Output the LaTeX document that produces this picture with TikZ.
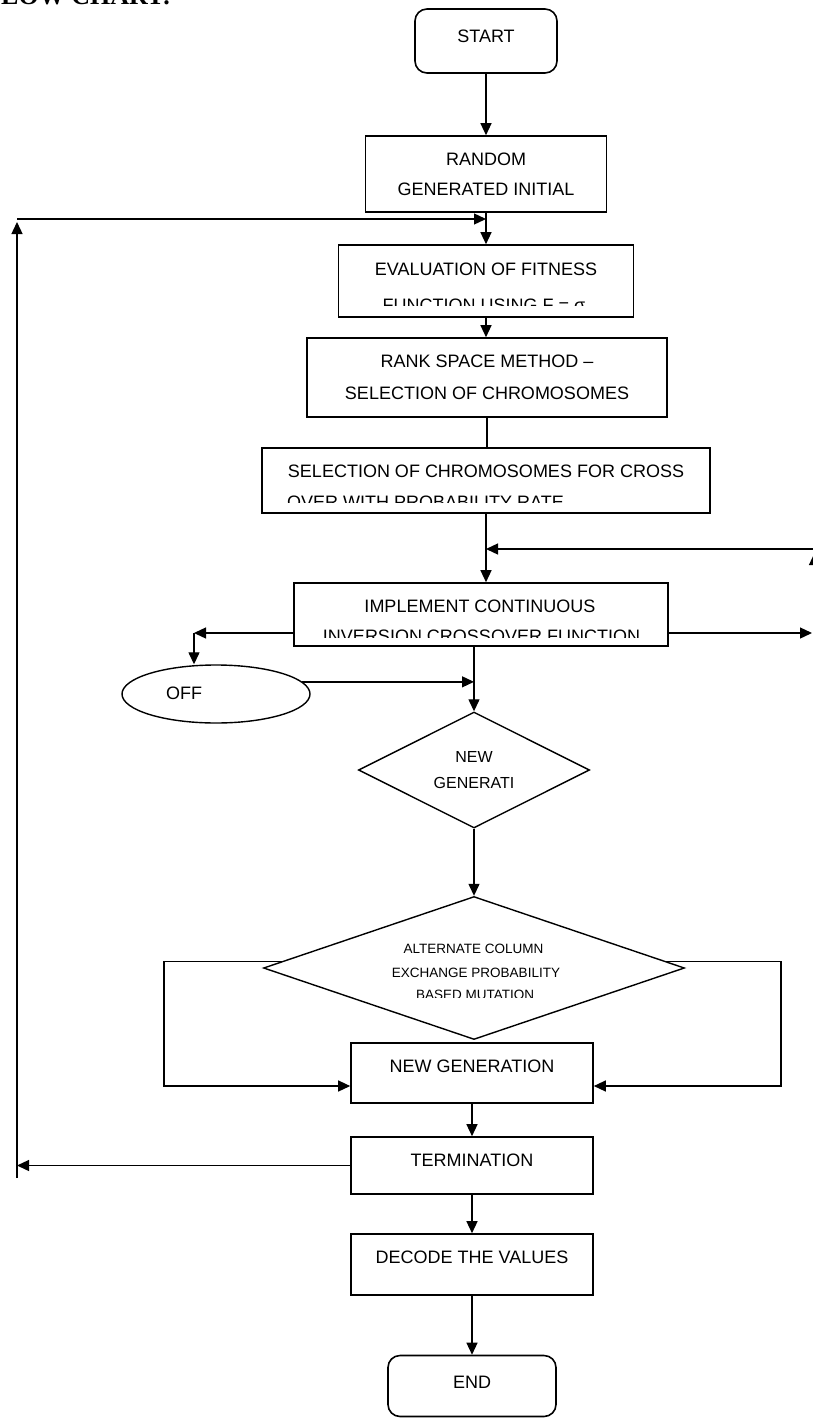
\documentclass[tikz,border=0pt]{standalone}
\usepackage{fontspec}
\setmainfont{Liberation Sans}
\newfontfamily\headfont{Liberation Serif}
\usepackage{tikz}
\usetikzlibrary{positioning, arrows.meta, shapes.geometric}

\begin{document}
\begin{tikzpicture}[
    x=1pt, y=-1pt,
    box/.style={
        draw,
        line width=1.6pt,
        inner sep=0pt,
        align=center,
        font=\fontsize{18}{30}\selectfont
    },
    roundbox/.style={
        box,
        rounded corners=12pt
    },
    decision/.style={
        diamond,
        draw,
        line width=1.4pt,
        aspect=2,
        inner sep=0pt,
        align=center,
        font=\fontsize{16}{26}\selectfont
    },
    offnode/.style={
        ellipse,
        draw,
        line width=1.4pt
    },
    lbl/.style={anchor=base, inner sep=0pt, font=\fontsize{18}{21}\selectfont},
    smalllbl/.style={anchor=base, inner sep=0pt, font=\fontsize{13.5}{16}\selectfont},
    link/.style={line width=1.3pt},
    arr/.style={-{Triangle[length=12pt, width=11pt]}, line width=1.3pt}
]

\useasboundingbox (0,0) rectangle (813,1418);

\node[anchor=base west, inner sep=0pt, font=\headfont\bfseries\fontsize{26}{30}\selectfont] (heading) at (1,4.5) {LOW CHART:};

\node[roundbox, minimum width=142pt, minimum height=64pt, text depth=9pt] (start) at (486,41) {START};
\node[box, minimum width=241pt, minimum height=76pt] (random) at (486,174) {RANDOM \\ GENERATED INITIAL};
\node[box, minimum width=295pt, minimum height=72pt] (eval) at (486,281) {};
\node[lbl] (evalA) at (486,275) {EVALUATION OF FITNESS};
\begin{scope}
    \clip (340,290) rectangle (635,305);
    \node[lbl] (evalB) at (484,311) {FUNCTION USING F = σ};
\end{scope}
\node[box, minimum width=360pt, minimum height=79pt] (rank) at (487,377.5) {RANK SPACE METHOD -- \\[2pt] SELECTION OF CHROMOSOMES};
\node[box, minimum width=448pt, minimum height=65pt] (sel) at (486,480.5) {};
\node[lbl] (selA) at (486,477) {SELECTION OF CHROMOSOMES FOR CROSS};
\begin{scope}
    \clip (263,485) rectangle (711,502);
    \node[lbl, anchor=base west] (selB) at (287,508) {OVER WITH PROBABILITY RATE};
\end{scope}
\node[box, minimum width=374pt, minimum height=63pt] (impl) at (481,614.5) {};
\node[lbl] (implA) at (480,612) {IMPLEMENT CONTINUOUS};
\begin{scope}
    \clip (294,620) rectangle (668,637);
    \node[lbl] (implB) at (481.5,642) {INVERSION CROSSOVER FUNCTION};
\end{scope}

\node[offnode, minimum width=188pt, minimum height=58pt] (off) at (216,694) {};
\node[lbl] (offtxt) at (184,699) {OFF};

\node[decision, minimum width=231pt, minimum height=116pt] (newdia) at (474,770) {NEW \\ GENERATI};
\node[decision, minimum width=421pt, minimum height=143pt] (bigdia) at (474,968) {};
\node[smalllbl] (bigA) at (473.5,953) {ALTERNATE COLUMN};
\node[smalllbl] (bigB) at (476,977) {EXCHANGE PROBABILITY};
\begin{scope}
    \clip (300,985) rectangle (650,997);
    \node[smalllbl] (bigC) at (475,999) {BASED MUTATION};
\end{scope}

\node[box, minimum width=242pt, minimum height=60pt, text depth=13pt] (newgen) at (472,1073) {NEW GENERATION};
\node[box, minimum width=242pt, minimum height=57pt, text depth=10pt] (term) at (472,1165.5) {TERMINATION};
\node[box, minimum width=242pt, minimum height=61pt, text depth=14pt] (decode) at (472,1264.5) {DECODE THE VALUES};
\node[roundbox, minimum width=168pt, minimum height=61pt, text depth=7pt] (end) at (472,1386) {END};

\coordinate (looptop) at (17,219);
\coordinate (loopbot) at (17,1178);
\coordinate (rjoin) at (814.5,549);
\coordinate (rturn) at (814.5,640);
\coordinate (rout) at (812,633);
\coordinate (offturn) at (194,633);
\coordinate (lfoot) at (164,1086);
\coordinate (rfoot) at (781,1086);

\draw[arr] (start.south) -- (random.north);
\draw[arr] (random.south) -- (random.south |- eval.north);
\draw[arr] (eval.south) -- (eval.south |- rank.north);
\draw[link] (rank.south) -- (rank.south |- sel.north);
\draw[arr] (sel.south) -- (sel.south |- impl.north);
\draw[arr] (rjoin) -- (rjoin -| sel.south);
\draw[arr] (rturn) -- ([yshift=-4pt]rjoin);
\draw[arr] ([yshift=-18.5pt]impl.east) -- (rout);
\draw[arr] ([yshift=-18.5pt]impl.west) -- (offturn);
\draw[arr] (offturn) -- (offturn |- off.north);
\draw[arr] (off.8) -- (off.8 -| newdia.north);
\draw[arr] (newdia.north |- impl.south) -- (newdia.north);
\draw[arr] (newdia.south) -- (bigdia.north);
\draw[arr] (bigdia.178) -| (lfoot) -- ([yshift=-13pt]newgen.west);
\draw[arr] (bigdia.2) -| (rfoot) -- ([yshift=-13pt]newgen.east);
\draw[arr] (newgen.south) -- (term.north);
\draw[arr] (term.south) -- (decode.north);
\draw[arr] (decode.south) -- (end.north);
\draw[arr] (term.west) -- (term.west -| looptop);
\draw[arr] (loopbot) -- ([yshift=-3pt]looptop);
\draw[arr] (looptop) -- (looptop -| random.south);

\end{tikzpicture}
\end{document}
